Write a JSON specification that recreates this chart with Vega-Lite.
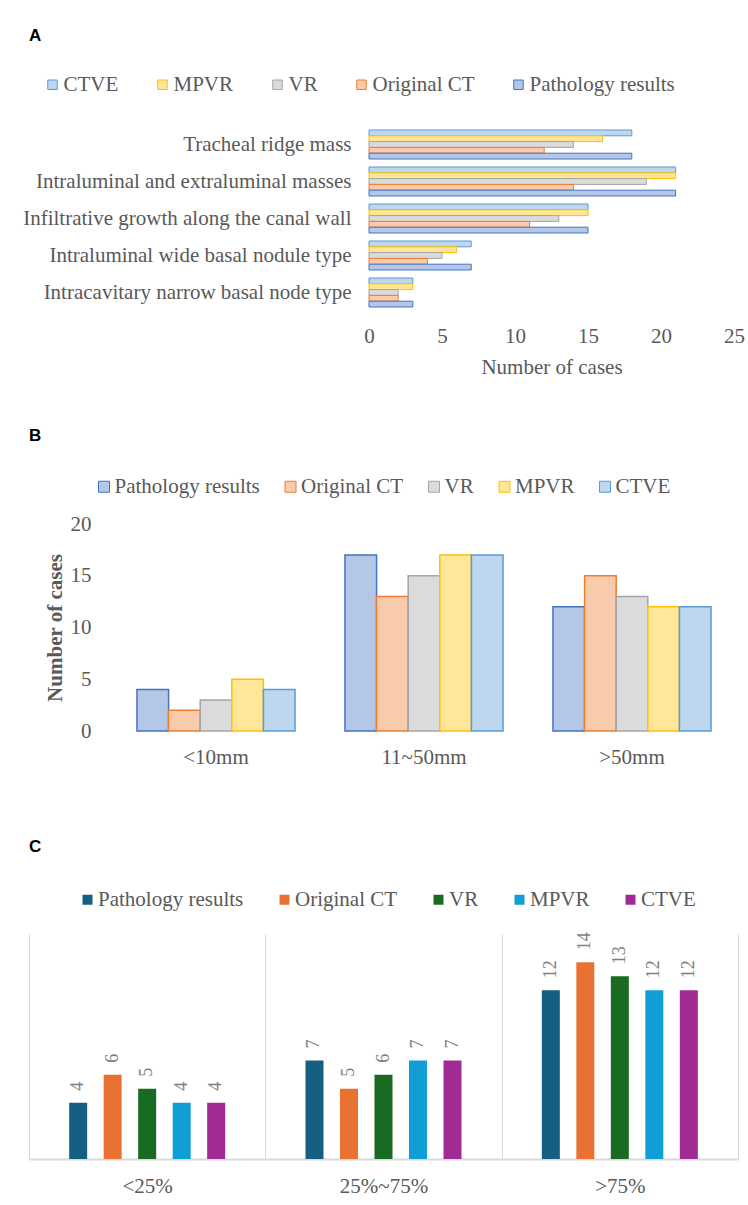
{
  "$schema": "https://vega.github.io/schema/vega-lite/v6.json",
  "padding": {"left": 9, "top": 27, "right": 0, "bottom": 0},
  "background": "white",
  "spacing": 50,
  "resolve": {
    "scale": {"fill": "independent", "stroke": "independent", "color": "independent", "xOffset": "independent", "yOffset": "independent"},
    "legend": {"fill": "independent", "stroke": "independent", "color": "independent"}
  },
  "datasets": {
    "empty": [],
    "a": [
      {"type": "Tracheal ridge mass", "method": "CTVE", "n": 18},
      {"type": "Tracheal ridge mass", "method": "MPVR", "n": 16},
      {"type": "Tracheal ridge mass", "method": "VR", "n": 14},
      {"type": "Tracheal ridge mass", "method": "Original CT", "n": 12},
      {"type": "Tracheal ridge mass", "method": "Pathology results", "n": 18},
      {"type": "Intraluminal and extraluminal masses", "method": "CTVE", "n": 21},
      {"type": "Intraluminal and extraluminal masses", "method": "MPVR", "n": 21},
      {"type": "Intraluminal and extraluminal masses", "method": "VR", "n": 19},
      {"type": "Intraluminal and extraluminal masses", "method": "Original CT", "n": 14},
      {"type": "Intraluminal and extraluminal masses", "method": "Pathology results", "n": 21},
      {"type": "Infiltrative growth along the canal wall", "method": "CTVE", "n": 15},
      {"type": "Infiltrative growth along the canal wall", "method": "MPVR", "n": 15},
      {"type": "Infiltrative growth along the canal wall", "method": "VR", "n": 13},
      {"type": "Infiltrative growth along the canal wall", "method": "Original CT", "n": 11},
      {"type": "Infiltrative growth along the canal wall", "method": "Pathology results", "n": 15},
      {"type": "Intraluminal wide basal nodule type", "method": "CTVE", "n": 7},
      {"type": "Intraluminal wide basal nodule type", "method": "MPVR", "n": 6},
      {"type": "Intraluminal wide basal nodule type", "method": "VR", "n": 5},
      {"type": "Intraluminal wide basal nodule type", "method": "Original CT", "n": 4},
      {"type": "Intraluminal wide basal nodule type", "method": "Pathology results", "n": 7},
      {"type": "Intracavitary narrow basal node type", "method": "CTVE", "n": 3},
      {"type": "Intracavitary narrow basal node type", "method": "MPVR", "n": 3},
      {"type": "Intracavitary narrow basal node type", "method": "VR", "n": 2},
      {"type": "Intracavitary narrow basal node type", "method": "Original CT", "n": 2},
      {"type": "Intracavitary narrow basal node type", "method": "Pathology results", "n": 3}
    ],
    "b": [
      {"size": "<10mm", "method": "Pathology results", "n": 4},
      {"size": "<10mm", "method": "Original CT", "n": 2},
      {"size": "<10mm", "method": "VR", "n": 3},
      {"size": "<10mm", "method": "MPVR", "n": 5},
      {"size": "<10mm", "method": "CTVE", "n": 4},
      {"size": "11~50mm", "method": "Pathology results", "n": 17},
      {"size": "11~50mm", "method": "Original CT", "n": 13},
      {"size": "11~50mm", "method": "VR", "n": 15},
      {"size": "11~50mm", "method": "MPVR", "n": 17},
      {"size": "11~50mm", "method": "CTVE", "n": 17},
      {"size": ">50mm", "method": "Pathology results", "n": 12},
      {"size": ">50mm", "method": "Original CT", "n": 15},
      {"size": ">50mm", "method": "VR", "n": 13},
      {"size": ">50mm", "method": "MPVR", "n": 12},
      {"size": ">50mm", "method": "CTVE", "n": 12}
    ],
    "c": [
      {"cov": "<25%", "method": "Pathology results", "n": 4},
      {"cov": "<25%", "method": "Original CT", "n": 6},
      {"cov": "<25%", "method": "VR", "n": 5},
      {"cov": "<25%", "method": "MPVR", "n": 4},
      {"cov": "<25%", "method": "CTVE", "n": 4},
      {"cov": "25%~75%", "method": "Pathology results", "n": 7},
      {"cov": "25%~75%", "method": "Original CT", "n": 5},
      {"cov": "25%~75%", "method": "VR", "n": 6},
      {"cov": "25%~75%", "method": "MPVR", "n": 7},
      {"cov": "25%~75%", "method": "CTVE", "n": 7},
      {"cov": ">75%", "method": "Pathology results", "n": 12},
      {"cov": ">75%", "method": "Original CT", "n": 14},
      {"cov": ">75%", "method": "VR", "n": 13},
      {"cov": ">75%", "method": "MPVR", "n": 12},
      {"cov": ">75%", "method": "CTVE", "n": 12}
    ]
  },
  "config": {
    "view": {"stroke": null},
    "font": "Liberation Serif",
    "axis": {
      "labelFont": "Liberation Serif", "labelFontSize": 21, "labelColor": "#595959",
      "titleFont": "Liberation Serif", "titleFontSize": 21, "titleColor": "#595959", "titleFontWeight": "normal",
      "ticks": false, "domain": false, "grid": false, "labelOverlap": false
    },
    "legend": {
      "labelFont": "Liberation Serif", "labelFontSize": 21, "labelColor": "#595959",
      "padding": 0, "labelLimit": 400, "symbolType": "square"
    },
    "title": {
      "font": "Liberation Sans", "fontSize": 17, "fontWeight": "bold", "color": "#000000",
      "anchor": "start", "frame": "bounds", "baseline": "alphabetic", "dx": 19
    }
  },
  "vconcat": [
    {
      "spacing": 0,
      "resolve": {
        "scale": {"fill": "independent", "stroke": "independent"},
        "legend": {"fill": "independent", "stroke": "independent"}
      },
      "hconcat": [
        {"width": 1, "height": 1, "data": {"name": "empty"}, "mark": "point"},
        {
          "title": {"text": "A", "offset": 29},
          "width": 365,
          "height": 185,
          "data": {"name": "a"},
          "mark": {"type": "bar", "strokeWidth": 1},
          "encoding": {
            "y": {
              "field": "type", "type": "nominal",
              "sort": ["Tracheal ridge mass", "Intraluminal and extraluminal masses", "Infiltrative growth along the canal wall", "Intraluminal wide basal nodule type", "Intracavitary narrow basal node type"],
              "scale": {"paddingInner": 0.216, "paddingOuter": 0.108},
              "axis": {"title": null, "labelPadding": 18, "minExtent": 359, "maxExtent": 359, "labelLimit": 400}
            },
            "yOffset": {
              "field": "method",
              "sort": ["CTVE", "MPVR", "VR", "Original CT", "Pathology results"],
              "scale": {"paddingInner": 0, "paddingOuter": 0}
            },
            "x": {
              "field": "n", "type": "quantitative",
              "scale": {"domain": [0, 25]},
              "axis": {"values": [0, 5, 10, 15, 20, 25], "title": "Number of cases", "labelPadding": 14, "titlePadding": 10, "labelFlush": false}
            },
            "fill": {
              "field": "method", "type": "nominal",
              "scale": {"domain": ["CTVE", "MPVR", "VR", "Original CT", "Pathology results"], "range": ["#bdd7ee", "#ffe699", "#dbdbdb", "#f8cbad", "#b4c7e7"]},
              "legend": {"title": null, "orient": "none", "legendX": -327, "legendY": -52, "direction": "horizontal", "symbolSize": 90, "symbolStrokeWidth": 1, "labelOffset": 0.5, "columnPadding": 33}
            },
            "stroke": {
              "field": "method", "type": "nominal",
              "scale": {"domain": ["CTVE", "MPVR", "VR", "Original CT", "Pathology results"], "range": ["#5b9bd5", "#ffc000", "#a5a5a5", "#ed7d31", "#4472c4"]},
              "legend": {"title": null, "orient": "none", "legendX": -327, "legendY": -52, "direction": "horizontal", "symbolSize": 90, "symbolStrokeWidth": 1, "labelOffset": 0.5, "columnPadding": 33}
            }
          }
        }
      ]
    },
    {
      "spacing": 0,
      "resolve": {
        "scale": {"fill": "independent", "stroke": "independent"},
        "legend": {"fill": "independent", "stroke": "independent"}
      },
      "hconcat": [
        {"width": 1, "height": 1, "data": {"name": "empty"}, "mark": "point"},
        {
          "title": {"text": "B", "offset": 31},
          "width": 624,
          "height": 207,
          "data": {"name": "b"},
          "mark": {"type": "bar", "strokeWidth": 1.5},
          "encoding": {
            "x": {
              "field": "size", "type": "nominal", "sort": ["<10mm", "11~50mm", ">50mm"],
              "scale": {"paddingInner": 0.24, "paddingOuter": 0.12},
              "axis": {"title": null, "labelAngle": 0, "labelPadding": 15, "minExtent": 57, "maxExtent": 57}
            },
            "xOffset": {
              "field": "method",
              "sort": ["Pathology results", "Original CT", "VR", "MPVR", "CTVE"],
              "scale": {"paddingInner": 0, "paddingOuter": 0}
            },
            "y": {
              "field": "n", "type": "quantitative",
              "scale": {"domain": [0, 20]},
              "axis": {"values": [0, 5, 10, 15, 20], "title": "Number of cases", "titleFontWeight": "bold", "labelPadding": 21, "minExtent": 102, "maxExtent": 102, "titleX": -57, "titleY": 103.5, "titleAngle": -90, "titleAlign": "center", "titleBaseline": "middle"}
            },
            "fill": {
              "field": "method", "type": "nominal",
              "scale": {"domain": ["Pathology results", "Original CT", "VR", "MPVR", "CTVE"], "range": ["#b4c7e7", "#f8cbad", "#dbdbdb", "#ffe699", "#bdd7ee"]},
              "legend": {"title": null, "orient": "none", "legendX": -18.5, "legendY": -48, "direction": "horizontal", "symbolSize": 121, "symbolStrokeWidth": 1, "labelOffset": 0, "columnPadding": 19.5}
            },
            "stroke": {
              "field": "method", "type": "nominal",
              "scale": {"domain": ["Pathology results", "Original CT", "VR", "MPVR", "CTVE"], "range": ["#4472c4", "#ed7d31", "#a5a5a5", "#ffc000", "#5b9bd5"]},
              "legend": {"title": null, "orient": "none", "legendX": -18.5, "legendY": -48, "direction": "horizontal", "symbolSize": 121, "symbolStrokeWidth": 1, "labelOffset": 0, "columnPadding": 19.5}
            }
          }
        }
      ]
    },
    {
      "spacing": 0,
      "resolve": {
        "scale": {"color": "independent", "xOffset": "independent"},
        "legend": {"color": "independent"}
      },
      "hconcat": [
        {"width": 1, "height": 1, "data": {"name": "empty"}, "mark": "point"},
        {
          "title": {"text": "C", "offset": 33},
          "width": 709,
          "height": 225,
          "data": {"name": "c"},
          "encoding": {
            "x": {
              "field": "cov", "type": "nominal", "sort": ["<25%", "25%~75%", ">75%"],
              "scale": {"paddingInner": 0, "paddingOuter": 0},
              "axis": {"title": null, "labelAngle": 0, "labelPadding": 16, "domain": true, "domainColor": "#d9d9d9", "domainWidth": 2, "grid": true, "gridColor": "#d9d9d9", "gridWidth": 1, "tickBand": "extent"}
            },
            "xOffset": {
              "field": "method",
              "scale": {"domain": [" ", "Pathology results", "Original CT", "VR", "MPVR", "CTVE", "  "], "paddingInner": 0.478, "paddingOuter": 0.164}
            },
            "y": {
              "field": "n", "type": "quantitative",
              "scale": {"domain": [0, 16]},
              "axis": {"labels": false, "title": null, "minExtent": 19, "maxExtent": 19}
            }
          },
          "layer": [
            {
              "mark": {"type": "bar"},
              "encoding": {
                "color": {
                  "field": "method", "type": "nominal",
                  "scale": {"domain": ["Pathology results", "Original CT", "VR", "MPVR", "CTVE"], "range": ["#156082", "#e97132", "#196b24", "#0f9ed5", "#a02b93"]},
                  "legend": {"title": null, "orient": "none", "legendX": 48, "legendY": -45, "direction": "horizontal", "symbolSize": 100, "labelOffset": 0, "columnPadding": 30}
                }
              }
            },
            {
              "mark": {"type": "text", "angle": -90, "align": "left", "baseline": "middle", "dx": 12, "fontSize": 18, "font": "Liberation Serif", "color": "#808080"},
              "encoding": {"text": {"field": "n", "type": "quantitative"}}
            }
          ]
        }
      ]
    }
  ]
}
